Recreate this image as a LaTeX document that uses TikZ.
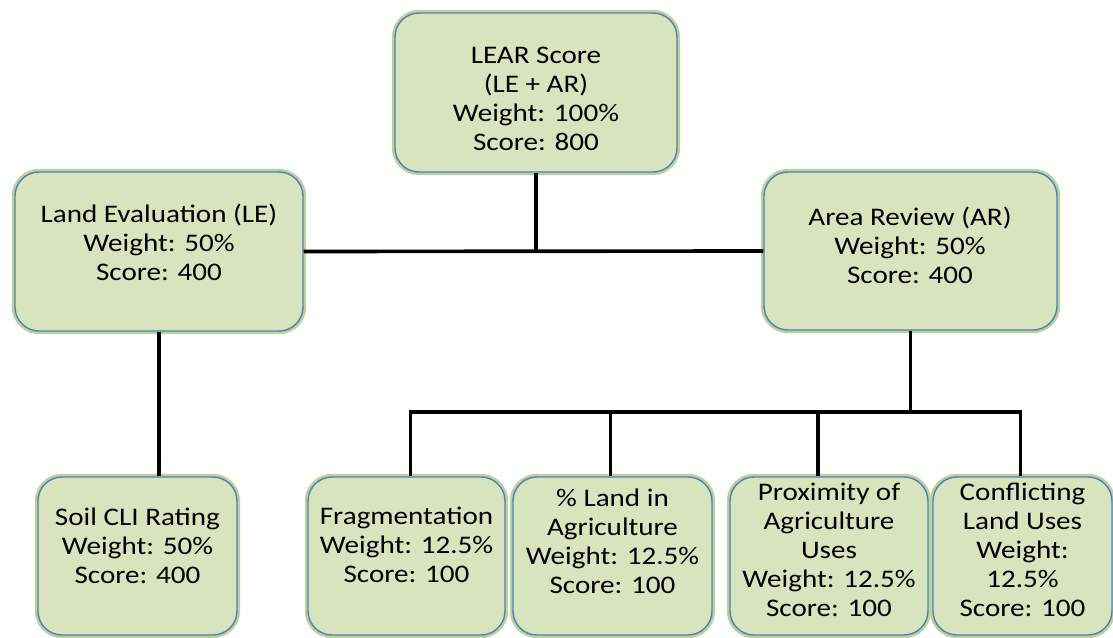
\documentclass[tikz,border=0pt]{standalone}
\usepackage{fontspec}
\setmainfont{Carlito}[FakeStretch=1.15]

\definecolor{boxfill}{HTML}{D7E4BD}
\definecolor{boxline}{HTML}{4F81BD}
\definecolor{boxglow}{HTML}{BDD19A}

\begin{document}
\begin{tikzpicture}[x = 0.025cm, y = -0.025cm, font = \fontsize{18}{20.6}\selectfont,
	box/.style = {draw = boxline, line width = 1pt, fill = boxfill, rounded corners = 0.6cm, preaction = {draw = boxglow, line width = 4.5pt}},
	txt/.style = {align = center, inner sep = 0pt},
	wire/.style = {line width = 2.6pt}]

	% Definitions
	
	\def\px{0.025cm}	% One pixel of the page
	\def\rowy{556}		% Centre of the lower row
	\def\rowh{158}		% Height of the lower boxes
	
	\useasboundingbox (0, 0) rectangle (1113, 638);
	
	% Draw upper boxes
	
	\node [box, minimum width = 282 * \px, minimum height = 159 * \px] (lear) at (536, 92.5) {};
	\node [txt] (lear-text) at (536, 99) {LEAR Score\\(LE + AR)\\Weight: 100\%\\Score: 800};
	
	\node [box, minimum width = 288 * \px, minimum height = 159 * \px] (le) at (159, 251.5) {};
	\node [txt] (le-text) at (159, 242) {Land Evaluation (LE)\\Weight: 50\%\\Score: 400};
	
	\node [box, minimum width = 293 * \px, minimum height = 158 * \px] (ar) at (910.5, 251) {};
	\node [txt] (ar-text) at (910, 245) {Area Review (AR)\\Weight: 50\%\\Score: 400};
	
	% Draw lower boxes
	
	\foreach \n/\x/\w/\ty/\t in {
		soil/137.5/199/546/{Soil CLI Rating\\Weight: 50\%\\Score: 400},
		frag/406.5/197/545/{Fragmentation\\Weight: 12.5\%\\Score: 100},
		land/612.5/199/541/{\% Land in\\Agriculture\\Weight: 12.5\%\\Score: 100},
		prox/829/198/550/{Proximity of\\Agriculture\\Uses\\Weight: 12.5\%\\Score: 100},
		conf/1022.5/179/550/{Conflicting\\Land Uses\\Weight:\\12.5\%\\Score: 100}}
	{
		\node [box, minimum width = \w * \px, minimum height = \rowh * \px] (\n) at (\x, \rowy) {};
		\node [txt] (\n-text) at (\x, \ty) {\t};
	}
	
	% Draw connectors
	
	\coordinate (bus) at (908, 412);
	
	\draw [wire] (lear.south) -- (lear.south |- le.east);
	\draw [wire] (le.east) -- (ar.west);
	\draw [wire] (le.south) -- (le.south |- soil.north);
	\draw [wire] (ar.south) -- (ar.south |- bus);
	\draw [wire, line cap = rect] ([xshift = 4 * \px] frag.north |- bus) -- ([xshift = -2 * \px] conf.north |- bus);
	
	\foreach \n/\dx in {frag/4, land/-2, prox/-11, conf/-2}
		\draw [wire] ([xshift = \dx * \px] \n.north |- bus) -- ([xshift = \dx * \px] \n.north);
	
\end{tikzpicture}
\end{document}
